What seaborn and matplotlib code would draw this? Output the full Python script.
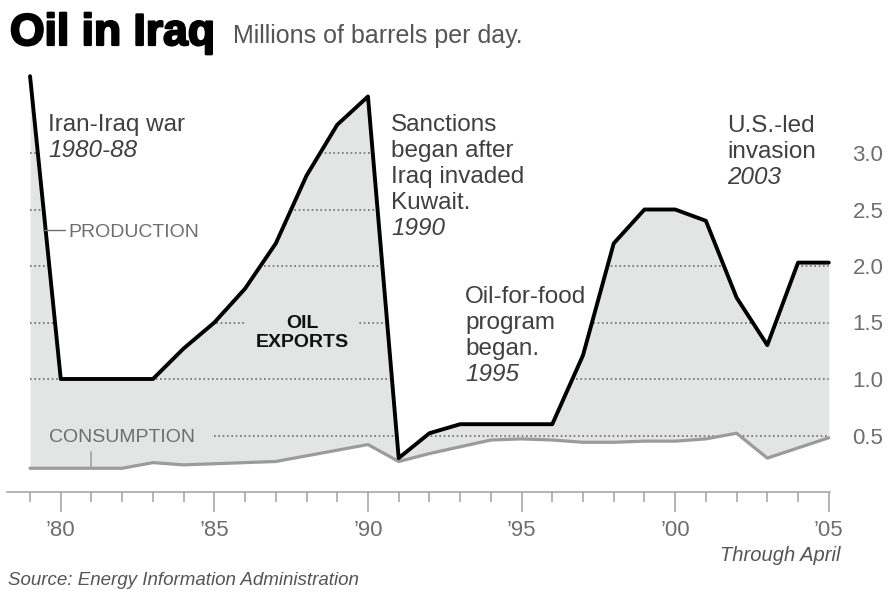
import matplotlib.pyplot as plt
import matplotlib.patheffects as pe
from matplotlib.lines import Line2D
from matplotlib.ticker import MultipleLocator
import seaborn as sns

# ── Data (millions of barrels per day) ────────────────
years = list(range(1979, 2006))
production = [3.68, 1.0, 1.0, 1.0, 1.0, 1.27, 1.5, 1.8, 2.2, 2.8, 3.25, 3.5,
              0.3, 0.52, 0.6, 0.6, 0.6, 0.6, 1.21, 2.2, 2.5, 2.5, 2.4, 1.72,
              1.3, 2.03, 2.03]
consumption = [0.21, 0.21, 0.21, 0.21, 0.26, 0.24, 0.25, 0.26, 0.27, 0.32, 0.37, 0.42,
               0.27, 0.34, 0.40, 0.46, 0.47, 0.46, 0.44, 0.44, 0.45, 0.45, 0.47, 0.52,
               0.30, 0.39, 0.48]
major_years = [1980, 1985, 1990, 1995, 2000, 2005]
major_labels = ["’80", "’85", "’90", "’95", "’00", "’05"]
levels = [0.5, 1.0, 1.5, 2.0, 2.5, 3.0]
level_labels = ["0.5", "1.0", "1.5", "2.0", "2.5", "3.0"]

FILL = "#e3e4e4"
INK = "#404040"
GREY = "#6e6e6e"
AXIS = "#a0a0a0"

sns.set_theme(style="white")
plt.rcParams["font.family"] = ["Liberation Sans", "DejaVu Sans"]

W, H = 888, 592
fig = plt.figure(figsize=(W / 100, H / 100), dpi=100)


def fx(x):
    return x / W


def fy(y):
    return 1 - y / H


ax = fig.add_axes([fx(7), fy(492), 823.3 / W, 429.4 / H])
ax.set_xlim(1978.25, 2005.05)
ax.set_ylim(0, 3.8)

# ── Exports band + dotted grid clipped to it ──────────
band = ax.fill_between(years, consumption, production, color=FILL, lw=0, zorder=1)
clip = band.get_paths()[0]
for lvl in levels:
    start = 1985.0 if lvl == 0.5 else years[0]
    ln, = ax.plot([start, years[-1]], [lvl, lvl], color=GREY, lw=1.2,
                  ls=(0, (1, 1.6)), zorder=2)
    ln.set_clip_path(clip, ax.transData)

sns.lineplot(x=years, y=consumption, color="#9b9b9b", lw=2.3, ax=ax, zorder=3, clip_on=False)
sns.lineplot(x=years, y=production, color="black", lw=2.8, ax=ax, zorder=4, clip_on=False)
ax.plot([years[2], years[2]], [consumption[2], 0.355], color="#9b9b9b", lw=1.1, zorder=3)

# ── Axes styling ──────────────────────────────────────
ax.set_xticks(major_years, major_labels)
ax.xaxis.set_minor_locator(MultipleLocator(1))
ax.tick_params(axis="x", which="major", direction="out", length=14.5, width=1.1,
               color=AXIS, pad=6, labelsize=16, labelcolor=GREY, bottom=True)
ax.tick_params(axis="x", which="minor", direction="out", length=7.5, width=1.1,
               color=AXIS, bottom=True)
ax.yaxis.tick_right()
ax.set_yticks(levels, level_labels)
ax.tick_params(axis="y", which="both", length=0, pad=16, labelsize=16,
               labelcolor=GREY, right=True, left=False)
for side in ["top", "left", "right"]:
    ax.spines[side].set_visible(False)
ax.spines["bottom"].set_color(AXIS)
ax.spines["bottom"].set_linewidth(1.1)
ax.grid(False)

ax.text(fx(302), fy(333), "OIL\nEXPORTS", transform=fig.transFigure, ha="center",
        va="center", fontsize=14, fontweight="bold", color="#111111", linespacing=1.1,
        bbox=dict(facecolor=FILL, edgecolor="none", pad=7), zorder=2.5)

# ── Text ──────────────────────────────────────────────
fig.text(fx(10), fy(45), "Oil in Iraq", fontsize=32, fontweight="bold", color="black",
         va="baseline", path_effects=[pe.withStroke(linewidth=1.6, foreground="black")])
fig.text(fx(233), fy(43), "Millions of barrels per day.", fontsize=18, color="#555555",
         va="baseline")


def note(x, y, lines, year):
    for i, s in enumerate(lines):
        fig.text(fx(x), fy(y + 26 * i), s, fontsize=17.5, color=INK, va="baseline")
    fig.text(fx(x), fy(y + 26 * len(lines)), year, fontsize=17.5, style="italic",
             color=INK, va="baseline")


note(48, 131, ["Iran-Iraq war"], "1980-88")
note(391, 131, ["Sanctions", "began after", "Iraq invaded", "Kuwait."], "1990")
note(727, 132, ["U.S.-led", "invasion"], "2003")
note(465, 303, ["Oil-for-food", "program", "began."], "1995")

fig.text(fx(68), fy(237), "PRODUCTION", fontsize=14, color=GREY, va="baseline")
fig.add_artist(Line2D([fx(43), fx(65)], [fy(230), fy(230)], color=GREY, lw=1,
                      transform=fig.transFigure))
fig.text(fx(49), fy(442), "CONSUMPTION", fontsize=14, color=GREY, va="baseline")

fig.text(fx(840), fy(561), "Through April", ha="right", va="baseline", fontsize=14.5,
         style="italic", color="#555555")
fig.text(fx(8), fy(585), "Source: Energy Information Administration", fontsize=13.5,
         style="italic", color="#555555", va="baseline")

fig.savefig("out.png", dpi=100)
